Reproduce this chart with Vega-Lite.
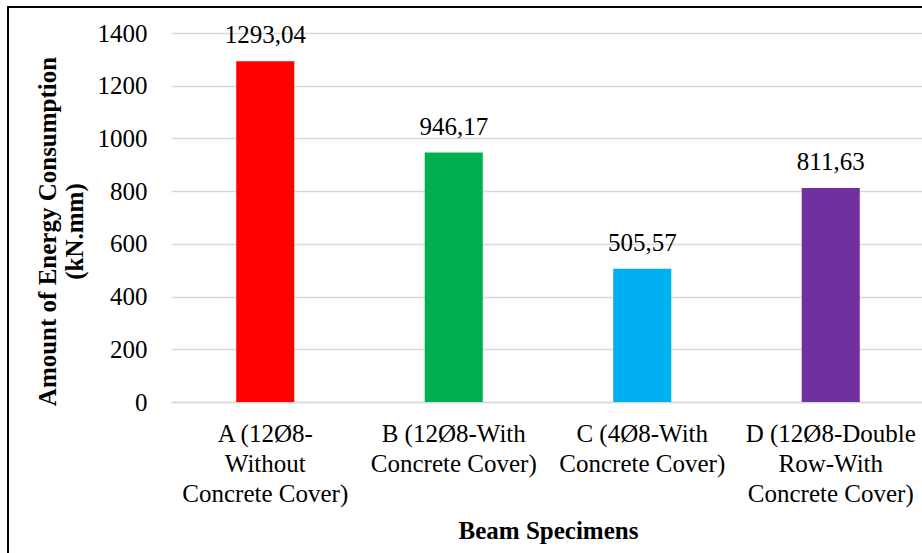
{
  "$schema": "https://vega.github.io/schema/vega-lite/v6.json",
  "autosize": {"type": "none"},
  "padding": {"left": 171, "top": 33, "right": 0, "bottom": 151},
  "width": 754,
  "height": 369,
  "background": "white",
  "config": {
    "font": "'Times New Roman', 'Liberation Serif', serif",
    "view": {"stroke": null},
    "axis": {"labelFont": "'Times New Roman', 'Liberation Serif', serif", "titleFont": "'Times New Roman', 'Liberation Serif', serif"},
    "text": {"font": "'Times New Roman', 'Liberation Serif', serif"}
  },
  "data": {
    "values": [
      {"specimen": "A (12Ø8-|Without|Concrete Cover)", "energy": 1293.04, "label": "1293,04", "color": "#FF0000"},
      {"specimen": "B (12Ø8-With|Concrete Cover)", "energy": 946.17, "label": "946,17", "color": "#00B050"},
      {"specimen": "C (4Ø8-With|Concrete Cover)", "energy": 505.57, "label": "505,57", "color": "#00B0F0"},
      {"specimen": "D (12Ø8-Double|Row-With|Concrete Cover)", "energy": 811.63, "label": "811,63", "color": "#7030A0"}
    ]
  },
  "layer": [
    {
      "mark": {"type": "rect", "x": -163, "y": -26, "x2": 780, "y2": 560, "fill": null, "stroke": "#000000", "strokeWidth": 2, "clip": false},
      "encoding": {}
    },
    {
      "mark": {"type": "bar"},
      "encoding": {
        "x": {
          "field": "specimen", "type": "nominal", "sort": null,
          "scale": {"paddingInner": 0.692, "paddingOuter": 0.346},
          "axis": {
            "title": "Beam Specimens",
            "titleFontSize": 25, "titleFontWeight": "bold", "titleColor": "#000000",
            "titlePadding": 12,
            "labelExpr": "split(datum.value, '|')",
            "labelAngle": 0, "labelFontSize": 25, "labelColor": "#000000", "labelLineHeight": 30,
            "labelPadding": 19, "ticks": false, "domainColor": "#d9d9d9", "domainWidth": 1.5,
            "labelLimit": 400
          }
        },
        "y": {
          "field": "energy", "type": "quantitative",
          "scale": {"domain": [0, 1400], "nice": false},
          "axis": {
            "title": ["Amount of Energy Consumption", "(kN.mm)"],
            "titleFontSize": 25, "titleFontWeight": "bold", "titleColor": "#000000", "titleLineHeight": 27,
            "titlePadding": 10,
            "titleY": 198,
            "format": "d",
            "values": [0, 200, 400, 600, 800, 1000, 1200, 1400],
            "labelFontSize": 25, "labelColor": "#000000", "labelPadding": 24,
            "ticks": false, "domain": false, "gridColor": "#d9d9d9", "gridWidth": 1.5
          }
        },
        "color": {"field": "color", "type": "nominal", "scale": null, "legend": null}
      }
    },
    {
      "mark": {"type": "text", "baseline": "alphabetic", "dy": -18, "fontSize": 25, "color": "#000000"},
      "encoding": {
        "x": {"field": "specimen", "type": "nominal", "sort": null},
        "y": {"field": "energy", "type": "quantitative"},
        "text": {"field": "label"}
      }
    }
  ]
}
